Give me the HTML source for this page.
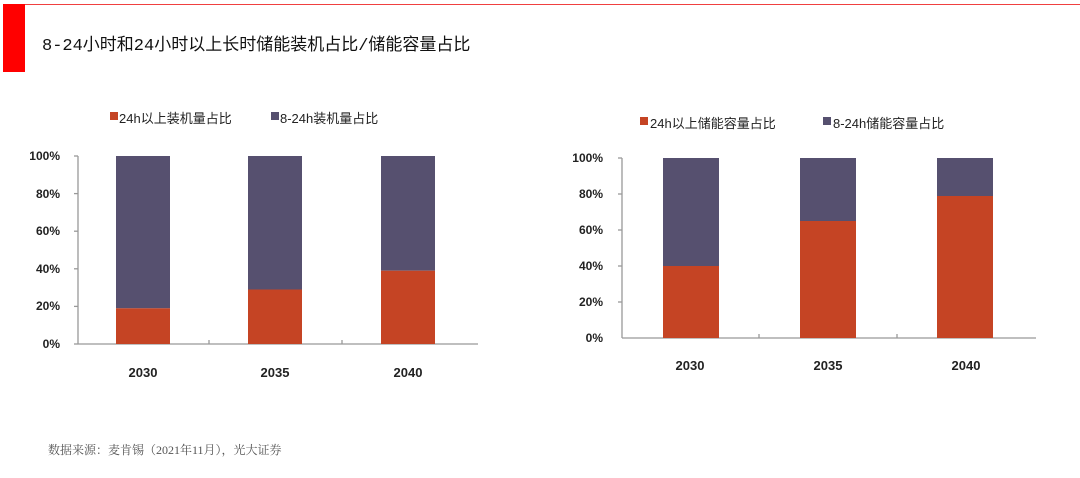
<!DOCTYPE html>
<html><head><meta charset="utf-8"><style>
body{margin:0;width:1080px;height:478px;background:#fff;position:relative;overflow:hidden;font-family:"Liberation Sans","Noto Sans CJK SC",sans-serif}
.t{position:absolute;white-space:nowrap}
</style></head><body>
<div style="position:absolute;left:3px;top:4px;width:1077px;height:1px;background:#f04040"></div>
<div style="position:absolute;left:3px;top:4px;width:22px;height:68px;background:#ff0000"></div>
<div class="t" style="left:42px;top:30px;font-size:17px;color:#111;font-family:'Liberation Mono','Noto Sans CJK SC',sans-serif">8-24小时和24小时以上长时储能装机占比/储能容量占比</div>
<svg width="1080" height="478" style="position:absolute;left:0;top:0" font-family="Liberation Sans, Noto Sans CJK SC, sans-serif" font-size="12" font-weight="bold" fill="#222">
<!-- left chart -->
<rect x="110" y="112" width="8" height="8" fill="#c54424"/><text x="119" y="123" font-weight="normal" font-size="13">24h以上装机量占比</text>
<rect x="271" y="112" width="8" height="8" fill="#56506f"/><text x="280" y="123" font-weight="normal" font-size="13">8-24h装机量占比</text>
<g stroke="#999" stroke-width="1.3">
<line x1="78" y1="156" x2="78" y2="344"/><line x1="78" y1="344" x2="478" y2="344"/>
<line x1="74" y1="156" x2="78" y2="156"/><line x1="74" y1="193.6" x2="78" y2="193.6"/><line x1="74" y1="231.2" x2="78" y2="231.2"/><line x1="74" y1="268.8" x2="78" y2="268.8"/><line x1="74" y1="306.4" x2="78" y2="306.4"/><line x1="74" y1="344" x2="78" y2="344"/>
<line x1="209" y1="344" x2="209" y2="340"/><line x1="342" y1="344" x2="342" y2="340"/>
</g>
<g text-anchor="end"><text x="60" y="160">100%</text><text x="60" y="198">80%</text><text x="60" y="235">60%</text><text x="60" y="273">40%</text><text x="60" y="310">20%</text><text x="60" y="348">0%</text></g>
<rect x="116" y="156" width="54" height="152.3" fill="#56506f"/><rect x="116" y="308.3" width="54" height="35.7" fill="#c54424"/>
<rect x="248" y="156" width="54" height="133.5" fill="#56506f"/><rect x="248" y="289.5" width="54" height="54.5" fill="#c54424"/>
<rect x="381" y="156" width="54" height="114.7" fill="#56506f"/><rect x="381" y="270.7" width="54" height="73.3" fill="#c54424"/>
<g text-anchor="middle" font-size="13"><text x="143" y="377">2030</text><text x="275" y="377">2035</text><text x="408" y="377">2040</text></g>
<!-- right chart -->
<rect x="640" y="117" width="8" height="8" fill="#c54424"/><text x="650" y="128" font-weight="normal" font-size="13">24h以上储能容量占比</text>
<rect x="823" y="117" width="8" height="8" fill="#56506f"/><text x="833" y="128" font-weight="normal" font-size="13">8-24h储能容量占比</text>
<g stroke="#999" stroke-width="1.3">
<line x1="622" y1="158" x2="622" y2="338"/><line x1="622" y1="338" x2="1036" y2="338"/>
<line x1="618" y1="158" x2="622" y2="158"/><line x1="618" y1="194" x2="622" y2="194"/><line x1="618" y1="230" x2="622" y2="230"/><line x1="618" y1="266" x2="622" y2="266"/><line x1="618" y1="302" x2="622" y2="302"/>
<line x1="759" y1="338" x2="759" y2="334"/><line x1="897" y1="338" x2="897" y2="334"/>
</g>
<g text-anchor="end"><text x="603" y="162">100%</text><text x="603" y="198">80%</text><text x="603" y="234">60%</text><text x="603" y="270">40%</text><text x="603" y="306">20%</text><text x="603" y="342">0%</text></g>
<rect x="663" y="158" width="56" height="108" fill="#56506f"/><rect x="663" y="266" width="56" height="72" fill="#c54424"/>
<rect x="800" y="158" width="56" height="63" fill="#56506f"/><rect x="800" y="221" width="56" height="117" fill="#c54424"/>
<rect x="937" y="158" width="56" height="38" fill="#56506f"/><rect x="937" y="196" width="56" height="142" fill="#c54424"/>
<g text-anchor="middle" font-size="13"><text x="690" y="370">2030</text><text x="828" y="370">2035</text><text x="966" y="370">2040</text></g>
</svg>
<div class="t" style="left:48px;top:441px;font-size:12px;color:#555;font-family:'Liberation Serif','Noto Serif CJK SC',serif">数据来源：麦肯锡（2021年11月），光大证券</div>
</body></html>
